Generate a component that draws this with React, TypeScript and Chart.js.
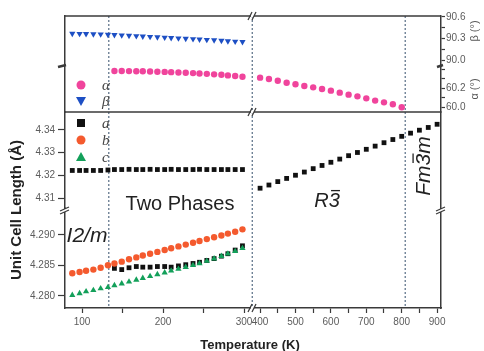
import React, { useEffect, useRef } from 'react';
import { Chart, registerables } from 'chart.js';

Chart.register(...registerables);

// ---------- data ----------
// temperatures (K)
const tempsLowRange = [88, 97, 105, 114, 123, 132, 140, 149, 158, 167, 175, 184, 193, 202, 210, 219, 228, 237, 245, 254, 263, 272, 280, 289, 298];
const tempsTwoPhase = [140, 149, 158, 167, 175, 184, 193, 202, 210, 219, 228, 237, 245, 254, 263, 272, 280, 289, 298];
const tempsRhombAlpha = [400, 425, 450, 475, 500, 525, 550, 575, 600, 625, 650, 675, 700, 725, 750, 775, 800];
const tempsHighRange = [400, 425, 450, 475, 500, 525, 550, 575, 600, 625, 650, 675, 700, 725, 750, 775, 800, 825, 850, 875, 900];

// angles (deg)
const betaMono = [90.370, 90.368, 90.365, 90.362, 90.360, 90.356, 90.351, 90.346, 90.341, 90.336, 90.331, 90.326, 90.321, 90.316, 90.311, 90.305, 90.300, 90.295, 90.290, 90.284, 90.278, 90.272, 90.266, 90.260, 90.254];
const alphaTwoPhase = [60.382, 60.382, 60.381, 60.380, 60.379, 60.377, 60.375, 60.373, 60.370, 60.367, 60.364, 60.360, 60.356, 60.352, 60.347, 60.342, 60.336, 60.329, 60.322];
const alphaRhomb = [60.312, 60.298, 60.280, 60.259, 60.242, 60.224, 60.210, 60.193, 60.175, 60.154, 60.133, 60.115, 60.094, 60.070, 60.052, 60.031, 60.000];

// unit cell lengths (Å)
const aRhombLow = [4.3222, 4.3222, 4.3222, 4.3222, 4.3222, 4.3224, 4.3226, 4.3226, 4.3227, 4.3226, 4.3226, 4.3227, 4.3226, 4.3226, 4.3227, 4.3226, 4.3226, 4.3226, 4.3227, 4.3226, 4.3226, 4.3226, 4.3226, 4.3226, 4.3226];
const aRhombHigh = [4.3144, 4.3158, 4.3173, 4.3187, 4.3201, 4.3215, 4.3230, 4.3244, 4.3258, 4.3272, 4.3287, 4.3301, 4.3315, 4.3329, 4.3344, 4.3358, 4.3372, 4.3386, 4.3399, 4.3411, 4.3425];
const aMono = [4.2845, 4.2843, 4.2846, 4.2848, 4.2847, 4.2847, 4.2848, 4.2848, 4.2847, 4.2849, 4.2851, 4.2853, 4.2855, 4.2858, 4.2861, 4.2865, 4.2869, 4.2875, 4.2882];
const bMono = [4.2837, 4.2839, 4.2841, 4.2843, 4.2846, 4.2850, 4.2853, 4.2856, 4.2860, 4.2863, 4.2866, 4.2869, 4.2872, 4.2875, 4.2878, 4.2881, 4.2884, 4.2887, 4.2890, 4.2893, 4.2896, 4.2899, 4.2902, 4.2905, 4.2909];
const cMono = [4.2801, 4.2804, 4.2807, 4.2809, 4.2812, 4.2814, 4.2817, 4.2820, 4.2823, 4.2826, 4.2829, 4.2832, 4.2835, 4.2838, 4.2841, 4.2844, 4.2847, 4.2850, 4.2853, 4.2857, 4.2861, 4.2865, 4.2869, 4.2873, 4.2878];

// ticks (all tick marks) and the ones that carry a label
const xTicksLow = [100, 150, 200, 250, 300];
const xTicksHigh = [400, 450, 500, 550, 600, 650, 700, 750, 800, 850, 900];
const xLabeled = [100, 200, 300, 400, 500, 600, 700, 800, 900];
const yTicksUpper = [4.31, 4.32, 4.33, 4.34];
const yTicksLower = [4.280, 4.285, 4.290];
const betaTicks = [90.0, 90.15, 90.3, 90.45, 90.6];
const betaLabeled = [90.0, 90.3, 90.6];
const alphaTicks = [60.0, 60.1, 60.2, 60.3, 60.4];
const alphaLabeled = [60.0, 60.2];

// phase boundaries (K)
const boundaryTwoPhase = 133;
const boundaryRhomb = 378;
const boundaryCubic = 810;

// ---------- styles ----------
const FONT = "'Liberation Sans', Arial, Helvetica, sans-serif";
const SERIF = "'Liberation Serif', 'Times New Roman', serif";
const frameColor = '#3a3a3a';
const labelColor = '#5c5c5c';
const COL_A = '#111111';
const COL_B = '#f45a2e';
const COL_C = '#13a05a';
const COL_ALPHA = '#f0449c';
const COL_BETA = '#1d4fc4';

const inList = (v: number, list: number[]) => list.some((t) => Math.abs(t - v) < 1e-6);

const tickFont = { family: FONT, size: 10 };

function hiddenAxis(position: string, stack: string, stackWeight: number, weight: number, width: number) {
  return {
    type: 'linear', position, stack, stackWeight, weight, min: 0, max: 1,
    ticks: { display: false },
    grid: { display: false },
    border: { display: true, color: frameColor, width: 1.5 },
    afterFit: (s: any) => { s.width = width; },
  };
}

function valueAxis(position: string, stack: string, stackWeight: number, weight: number, min: number, max: number,
  ticks: number[], label: (v: number) => string, width: number, tickLength: number, padding: number) {
  return {
    type: 'linear', position, stack, stackWeight, weight, min, max,
    afterBuildTicks: (s: any) => { s.ticks = ticks.map((v) => ({ value: v })); },
    afterFit: (s: any) => { s.width = width; },
    ticks: { autoSkip: false, padding, font: tickFont, color: labelColor, callback: (v: any) => label(Number(v)) },
    grid: { display: true, drawOnChartArea: false, drawTicks: true, tickLength, tickColor: frameColor, tickWidth: 1.2 },
    border: { display: true, color: frameColor, width: 1.5 },
  };
}

function xAxis(weight: number, min: number, max: number, ticks: number[]) {
  return {
    type: 'linear', position: 'bottom', stack: 'x', stackWeight: 1, weight, min, max,
    afterBuildTicks: (s: any) => { s.ticks = ticks.map((v) => ({ value: v })); },
    afterFit: (s: any) => { s.height = 43; },
    ticks: { autoSkip: false, maxRotation: 0, padding: 3, font: tickFont, color: labelColor,
      callback: (v: any) => (inList(Number(v), xLabeled) ? String(v) : '') },
    grid: { display: true, drawOnChartArea: false, drawTicks: true, tickLength: 5, tickColor: frameColor, tickWidth: 1.2 },
    border: { display: true, color: frameColor, width: 1.5 },
  };
}

function series(label: string, xs: number[], ys: number[], xAxisID: string, yAxisID: string, style: any) {
  return {
    label,
    data: xs.map((x, i) => ({ x, y: ys[i] })),
    xAxisID, yAxisID,
    showLine: false,
    borderWidth: 0,
    ...style,
  };
}

function line(ctx: CanvasRenderingContext2D, x1: number, y1: number, x2: number, y2: number) {
  ctx.beginPath(); ctx.moveTo(x1, y1); ctx.lineTo(x2, y2); ctx.stroke();
}

// draws text (centered at 0,0 in current transform) with an overbar above one character
function barredText(ctx: CanvasRenderingContext2D, before: string, barred: string, after: string, size: number) {
  const full = before + barred + after;
  const w = ctx.measureText(full).width;
  const wb = ctx.measureText(before).width;
  const w3 = ctx.measureText(barred).width;
  ctx.textAlign = 'left';
  ctx.fillText(full, -w / 2, 0);
  ctx.strokeStyle = ctx.fillStyle as string;
  ctx.lineWidth = 1.3;
  const yBar = -size * 0.52;
  const xs = -w / 2 + wb + size * 0.12;
  line(ctx, xs, yBar, xs + w3 * 0.8, yBar);
  ctx.textAlign = 'center';
}

const overlayPlugin = {
  id: 'overlay',
  beforeDatasetsDraw(chart: any) {
    const { ctx, chartArea: ca, scales } = chart;
    const midY = scales.yU.top;
    ctx.save();
    ctx.strokeStyle = '#6f8296';
    ctx.lineWidth = 1.4;
    ctx.setLineDash([2, 2]);
    const xs = [
      scales.xL.getPixelForValue(boundaryTwoPhase),
      scales.xR.getPixelForValue(boundaryRhomb),
      scales.xR.getPixelForValue(boundaryCubic),
    ];
    xs.forEach((x) => line(ctx, x, ca.top, x, ca.bottom));
    ctx.setLineDash([]);
    ctx.strokeStyle = frameColor;
    ctx.lineWidth = 1.5;
    line(ctx, ca.left, ca.top, ca.right, ca.top);
    line(ctx, ca.left, midY, ca.right, midY);
    ctx.restore();
  },
  afterDraw(chart: any) {
    const { ctx, chartArea: ca, scales } = chart;
    const midY = scales.yU.top;
    ctx.save();
    // x-axis breaks
    const xb = scales.xL.right;
    [ca.top, midY, ca.bottom].forEach((y) => {
      ctx.fillStyle = '#ffffff';
      ctx.fillRect(xb - 2, y - 1.5, 3, 3);
      ctx.strokeStyle = frameColor;
      ctx.lineWidth = 1.2;
      line(ctx, xb - 5, y + 4, xb - 1, y - 4);
      line(ctx, xb - 1, y + 4, xb + 3, y - 4);
    });
    // y breaks, top panel
    const yTopBreak = scales.yB.bottom;
    ctx.strokeStyle = frameColor;
    ctx.lineWidth = 2.4;
    line(ctx, ca.left - 7, yTopBreak + 1, ca.left + 1, yTopBreak - 1);
    line(ctx, ca.right - 4, yTopBreak + 1, ca.right + 2, yTopBreak - 1);
    // y breaks, lower panel
    const yLowBreak = scales.yU.bottom + 2;
    [ca.left, ca.right].forEach((x) => {
      ctx.fillStyle = '#ffffff';
      ctx.fillRect(x - 1.5, yLowBreak - 1, 3, 3);
      ctx.strokeStyle = frameColor;
      ctx.lineWidth = 1.2;
      line(ctx, x - 5, yLowBreak + 1, x + 4, yLowBreak - 3);
      line(ctx, x - 5, yLowBreak + 4, x + 4, yLowBreak);
    });

    // phase labels
    ctx.fillStyle = '#222';
    ctx.textAlign = 'center';
    ctx.textBaseline = 'middle';
    ctx.font = `20px ${FONT}`;
    ctx.fillText('Two Phases', 180, 204);
    ctx.font = `italic 21px ${FONT}`;
    ctx.fillText('I2/m', 87, 236);
    ctx.save();
    ctx.translate(327, 201);
    ctx.font = `italic 20px ${FONT}`;
    barredText(ctx, 'R', '3', '', 20);
    ctx.restore();
    ctx.save();
    ctx.translate(424, 166);
    ctx.rotate(-Math.PI / 2);
    ctx.font = `italic 21px ${FONT}`;
    barredText(ctx, 'Fm', '3', 'm', 21);
    ctx.restore();

    // axis titles
    ctx.fillStyle = '#222';
    ctx.font = `bold 13px ${FONT}`;
    ctx.fillText('Temperature (K)', 250, 345);
    ctx.save();
    ctx.translate(17, 210);
    ctx.rotate(-Math.PI / 2);
    ctx.font = `bold 15px ${FONT}`;
    ctx.fillText('Unit Cell Length (Å)', 0, 0);
    ctx.restore();
    ctx.fillStyle = '#555';
    ctx.font = `11px ${FONT}`;
    [['β (°)', 31], ['α (°)', 89]].forEach(([t, y]) => {
      ctx.save();
      ctx.translate(475, y as number);
      ctx.rotate(-Math.PI / 2);
      ctx.fillText(t as string, 0, 0);
      ctx.restore();
    });

    // legends
    const mx = 81;
    const lx = 102;
    ctx.textAlign = 'left';
    ctx.font = `italic 15px ${SERIF}`;
    const rows: [string, string, string, number][] = [
      ['circle', COL_ALPHA, 'α', 85],
      ['down', COL_BETA, 'β', 101],
      ['square', COL_A, 'a', 123],
      ['circle', COL_B, 'b', 140],
      ['up', COL_C, 'c', 157],
    ];
    rows.forEach(([shape, col, txt, y]) => {
      ctx.fillStyle = col;
      ctx.beginPath();
      if (shape === 'circle') {
        ctx.arc(mx, y, 4.5, 0, Math.PI * 2);
      } else if (shape === 'square') {
        ctx.rect(mx - 4, y - 4, 8, 8);
      } else if (shape === 'down') {
        ctx.moveTo(mx - 5, y - 4); ctx.lineTo(mx + 5, y - 4); ctx.lineTo(mx, y + 5); ctx.closePath();
      } else {
        ctx.moveTo(mx - 5, y + 4); ctx.lineTo(mx + 5, y + 4); ctx.lineTo(mx, y - 5); ctx.closePath();
      }
      ctx.fill();
      ctx.fillStyle = '#444';
      ctx.fillText(txt, lx, y + 1);
    });
    ctx.restore();
  },
};

export default function App() {
  const ref = useRef<HTMLCanvasElement | null>(null);

  useEffect(() => {
    if (!ref.current) return;
    const chart = new Chart(ref.current, {
      type: 'scatter',
      data: {
        datasets: [
          series('β', tempsLowRange, betaMono, 'xL', 'yB', { pointStyle: 'triangle', pointRotation: 180, pointRadius: 3.6, backgroundColor: COL_BETA, borderColor: COL_BETA }),
          series('α', tempsTwoPhase, alphaTwoPhase, 'xL', 'yA', { pointStyle: 'circle', pointRadius: 3.2, backgroundColor: COL_ALPHA, borderColor: COL_ALPHA }),
          series('α R', tempsRhombAlpha, alphaRhomb, 'xR', 'yA', { pointStyle: 'circle', pointRadius: 3.2, backgroundColor: COL_ALPHA, borderColor: COL_ALPHA }),
          series('a R low', tempsLowRange, aRhombLow, 'xL', 'yU', { pointStyle: 'rect', pointRadius: 3.4, backgroundColor: COL_A, borderColor: COL_A }),
          series('a R high', tempsHighRange, aRhombHigh, 'xR', 'yU', { pointStyle: 'rect', pointRadius: 3.4, backgroundColor: COL_A, borderColor: COL_A }),
          series('b', tempsLowRange, bMono, 'xL', 'yLo', { pointStyle: 'circle', pointRadius: 3.2, backgroundColor: COL_B, borderColor: COL_B }),
          series('c', tempsLowRange, cMono, 'xL', 'yLo', { pointStyle: 'triangle', pointRadius: 3.6, backgroundColor: COL_C, borderColor: COL_C }),
          series('a M', tempsTwoPhase, aMono, 'xL', 'yLo', { pointStyle: 'rect', pointRadius: 3.4, backgroundColor: COL_A, borderColor: COL_A }),
        ],
      },
      options: {
        responsive: false,
        animation: false,
        layout: { padding: { top: 16, left: 0, right: 0, bottom: 0 } },
        plugins: { legend: { display: false }, tooltip: { enabled: false }, title: { display: false } },
        scales: {
          xL: xAxis(1, 79, 311, xTicksLow),
          xR: xAxis(2, 380, 911, xTicksHigh),
          yTopPad: hiddenAxis('left', 'yl', 96, 3, 65),
          yU: valueAxis('left', 'yl', 96, 2, 4.3057, 4.3479, yTicksUpper, (v) => v.toFixed(2), 65, 7, 3),
          yLo: valueAxis('left', 'yl', 100, 1, 4.2780, 4.2944, yTicksLower, (v) => v.toFixed(3), 65, 7, 3),
          yB: valueAxis('right', 'yr', 50, 1, 89.92, 90.613, betaTicks,
            (v) => (inList(v, betaLabeled) ? v.toFixed(1) : ''), 43, 4, 1),
          yA: valueAxis('right', 'yr', 46, 2, 59.95, 60.435, alphaTicks,
            (v) => (inList(v, alphaLabeled) ? v.toFixed(1) : ''), 43, 4, 1),
          yRPad: hiddenAxis('right', 'yr', 196, 3, 43),
        } as any,
      },
      plugins: [overlayPlugin],
    } as any);
    return () => chart.destroy();
  }, []);

  return (
    <div style={{ position: 'fixed', left: 0, top: 0, width: 484, height: 351, background: '#fff' }}>
      <canvas ref={ref} width={484} height={351} style={{ display: 'block', width: 484, height: 351 }} />
    </div>
  );
}
